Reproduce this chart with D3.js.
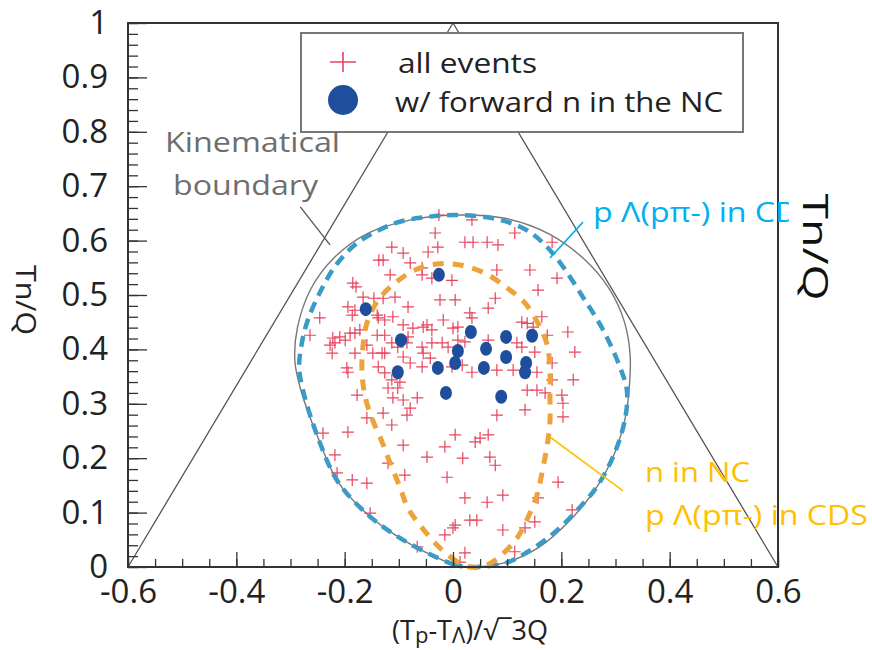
<!DOCTYPE html>
<html>
<head>
<meta charset="utf-8">
<script src="https://cdn.jsdelivr.net/npm/d3@7"></script>
<style>
  body { margin: 0; background: #fff; }
  svg { display: block; }
</style>
</head>
<body>
<svg id="chart" width="872" height="650"></svg>
<script>
// Axis ticks
const xTickValues = [-0.6, -0.4, -0.2, 0, 0.2, 0.4, 0.6];
const yTickValues = [0, 0.1, 0.2, 0.3, 0.4, 0.5, 0.6, 0.7, 0.8, 0.9, 1];
const xTickLabels = ["-0.6", "-0.4", "-0.2", "0", "0.2", "0.4", "0.6"];
const yTickLabels = ["0", "0.1", "0.2", "0.3", "0.4", "0.5", "0.6", "0.7", "0.8", "0.9", "1"];

// Dalitz triangle (simple kinematic limit)
const triangle = [[-0.6, 0], [0, 1], [0.6, 0]];

// Relativistic kinematical boundary
const boundary = [
  [0.031, 0], [0.004, 0.004], [-0.052, 0.028], [-0.107, 0.059], [-0.157, 0.096],
  [-0.212, 0.156], [-0.249, 0.237], [-0.282, 0.329], [-0.292, 0.380], [-0.287, 0.441],
  [-0.262, 0.512], [-0.220, 0.568], [-0.160, 0.612], [-0.078, 0.638], [0.004, 0.647],
  [0.096, 0.641], [0.178, 0.612], [0.242, 0.566], [0.288, 0.512], [0.316, 0.452],
  [0.327, 0.390], [0.325, 0.325], [0.318, 0.274], [0.299, 0.211], [0.268, 0.151],
  [0.220, 0.090], [0.157, 0.035], [0.096, 0.008]
];

// Acceptance: p Λ(pπ-) in CDS
const cdsAcceptance = [
  [0.031, 0], [0.004, 0.004], [-0.052, 0.028], [-0.107, 0.059], [-0.157, 0.096],
  [-0.212, 0.156], [-0.249, 0.237], [-0.277, 0.325], [-0.284, 0.368], [-0.279, 0.412],
  [-0.268, 0.454], [-0.246, 0.504], [-0.216, 0.555], [-0.175, 0.597], [-0.107, 0.632],
  [-0.052, 0.643], [0.004, 0.647], [0.078, 0.640], [0.133, 0.621], [0.166, 0.596],
  [0.198, 0.559], [0.240, 0.496], [0.277, 0.436], [0.308, 0.368], [0.321, 0.325],
  [0.318, 0.274], [0.299, 0.211], [0.268, 0.151], [0.238, 0.114], [0.188, 0.064],
  [0.138, 0.028], [0.096, 0.007]
];

// Acceptance: n in NC and p Λ(pπ-) in CDS
const ncAcceptance = [
  [0.031, 0], [0.009, 0.009], [-0.024, 0.035], [-0.057, 0.072], [-0.083, 0.108],
  [-0.098, 0.147], [-0.116, 0.191], [-0.131, 0.230], [-0.150, 0.274], [-0.162, 0.312],
  [-0.168, 0.358], [-0.166, 0.408], [-0.159, 0.448], [-0.138, 0.491], [-0.107, 0.522],
  [-0.070, 0.546], [-0.030, 0.557], [0.013, 0.555], [0.059, 0.540], [0.100, 0.513],
  [0.133, 0.485], [0.157, 0.448], [0.174, 0.408], [0.179, 0.358], [0.179, 0.311],
  [0.179, 0.267], [0.174, 0.224], [0.166, 0.182], [0.155, 0.132], [0.138, 0.090],
  [0.118, 0.053], [0.087, 0.020], [0.059, 0.002]
];

// All events
const allEvents = [
  [-0.026,0.647],[-0.033,0.614],[-0.028,0.588],[-0.046,0.579],[-0.113,0.588],[-0.137,0.564],
  [-0.129,0.564],[-0.092,0.577],[-0.079,0.559],[-0.057,0.550],[-0.057,0.537],[-0.039,0.531],
  [-0.002,0.527],[-0.116,0.537],[-0.185,0.522],[-0.179,0.515],[-0.166,0.496],[-0.146,0.494],
  [-0.129,0.494],[-0.107,0.496],[-0.194,0.478],[-0.181,0.472],[-0.186,0.463],[-0.140,0.463],
  [-0.138,0.458],[-0.126,0.454],[-0.111,0.460],[-0.083,0.478],[-0.092,0.445],[-0.055,0.441],
  [-0.048,0.445],[-0.074,0.439],[-0.039,0.436],[-0.024,0.491],[0.004,0.491],[-0.018,0.454],
  [0.000,0.439],[-0.222,0.421],[-0.209,0.423],[-0.199,0.417],[-0.190,0.430],[-0.181,0.430],
  [-0.172,0.436],[-0.227,0.408],[-0.218,0.412],[-0.223,0.393],[-0.246,0.458],[-0.264,0.426],
  [-0.181,0.393],[-0.148,0.393],[-0.131,0.393],[-0.126,0.393],[-0.159,0.408],[-0.140,0.426],
  [-0.126,0.426],[-0.102,0.404],[-0.113,0.412],[-0.085,0.412],[-0.083,0.423],[-0.057,0.404],
  [-0.055,0.393],[-0.039,0.412],[-0.020,0.412],[-0.009,0.404],[0.009,0.417],[-0.092,0.386],
  [-0.079,0.375],[-0.057,0.368],[-0.042,0.384],[-0.138,0.368],[-0.126,0.357],[-0.196,0.366],
  [-0.194,0.358],[-0.002,0.368],[-0.113,0.344],[-0.098,0.340],
  [0.035,0.638],[0.022,0.597],[0.037,0.597],[0.063,0.597],[0.083,0.592],[0.114,0.614],
  [0.183,0.597],[0.142,0.546],[0.192,0.531],[0.081,0.546],[0.157,0.509],[0.078,0.494],
  [0.065,0.476],[0.031,0.467],[0.035,0.458],[0.009,0.441],[0.164,0.460],[0.127,0.450],
  [0.137,0.448],[0.148,0.441],[0.212,0.432],[0.174,0.426],[0.118,0.412],[0.127,0.404],
  [0.065,0.417],[0.022,0.414],[0.225,0.395],[0.151,0.395],[0.183,0.375],[0.035,0.358],
  [0.081,0.362],[0.111,0.362],[0.155,0.358],[0.183,0.344],[0.222,0.344],[0.017,0.371],
  [-0.177,0.316],[-0.120,0.329],[-0.102,0.329],[-0.111,0.311],[-0.092,0.307],[-0.066,0.311],
  [-0.079,0.292],[-0.085,0.279],[-0.129,0.283],[-0.159,0.274],[-0.113,0.261],[-0.240,0.246],
  [-0.194,0.248],[-0.092,0.224],[0.004,0.243],[-0.015,0.221],[-0.048,0.202],[-0.218,0.206],
  [-0.120,0.191],[-0.089,0.169],[-0.214,0.173],[-0.186,0.160],[-0.159,0.154],[-0.011,0.165],
  [-0.153,0.099],[-0.015,0.059],[0.000,0.072],[-0.066,0.037],[0.013,0.009],
  [0.137,0.325],[0.155,0.325],[0.170,0.320],[0.201,0.316],[0.203,0.301],[0.203,0.276],
  [0.133,0.289],[0.081,0.279],[0.065,0.243],[0.041,0.230],[0.068,0.202],[0.078,0.187],
  [0.018,0.200],[0.194,0.156],[0.092,0.132],[0.063,0.119],[0.022,0.127],[0.157,0.127],
  [0.031,0.086],[0.044,0.086],[0.133,0.072],[0.151,0.083],[0.092,0.068],[0.114,0.028],
  [0.220,0.105],[0.022,0.026],[0.004,0.077],[0.050,0.237]
];

// Events with a forward neutron in the NC
const forwardN = [
  [-0.161,0.474],[-0.026,0.537],[-0.096,0.417],[0.033,0.432],[0.009,0.397],[0.004,0.375],
  [-0.028,0.366],[-0.102,0.358],[0.061,0.401],[0.098,0.423],[0.098,0.386],[0.146,0.425],
  [0.057,0.366],[0.135,0.375],[0.133,0.358],[-0.013,0.320],[0.089,0.313]
];

// Annotation leader lines (data coordinates)
const boundaryLeader = [[-0.282, 0.662], [-0.227, 0.592]];
const cdsLeader = [[0.240, 0.634], [0.179, 0.568]];
const ncLeader = [[0.179, 0.239], [0.314, 0.140]];

const svg = d3.select("#chart");
const W = 872, H = 650;
const m = { left: 128, right: 778, top: 23, bottom: 567 };

const x = d3.scaleLinear().domain([-0.6, 0.6]).range([m.left, m.right]);
const y = d3.scaleLinear().domain([0, 1]).range([m.bottom, m.top]);

const FONT = "'Open Sans', 'DejaVu Sans', sans-serif";

svg.append("rect").attr("width", W).attr("height", H).attr("fill", "#fff");

const line = d3.line().x(d => x(d[0])).y(d => y(d[1]));
const closed = d3.line().x(d => x(d[0])).y(d => y(d[1])).curve(d3.curveCatmullRomClosed.alpha(0.5));

// Triangle
svg.append("path")
  .attr("d", line(triangle))
  .attr("fill", "none").attr("stroke", "#555").attr("stroke-width", 1.3);

// Boundary curve
svg.append("path")
  .attr("d", closed(boundary))
  .attr("fill", "none").attr("stroke", "#777").attr("stroke-width", 1.4);

// Red crosses
svg.append("g").selectAll("path").data(allEvents).join("path")
  .attr("transform", d => `translate(${x(d[0])},${y(d[1])})`)
  .attr("d", "M-6,0H6M0,-6V6")
  .attr("stroke", "#e8445c").attr("stroke-width", 1.2).attr("fill", "none");

// Acceptance contours
svg.append("path")
  .attr("d", closed(cdsAcceptance))
  .attr("fill", "none").attr("stroke", "#3a9bc6").attr("stroke-width", 4.5)
  .attr("stroke-dasharray", "11 7");

svg.append("path")
  .attr("d", closed(ncAcceptance))
  .attr("fill", "none").attr("stroke", "#eea23a").attr("stroke-width", 5)
  .attr("stroke-dasharray", "11 9");

// Blue dots
svg.append("g").selectAll("ellipse").data(forwardN).join("ellipse")
  .attr("cx", d => x(d[0])).attr("cy", d => y(d[1]))
  .attr("rx", 6).attr("ry", 7)
  .attr("fill", "#1f4e9c");

// Axes
const axisL = d3.axisLeft(y).tickValues(yTickValues)
  .tickFormat((d, i) => yTickLabels[i]).tickSize(-19).tickPadding(20);
const axisLMinor = d3.axisLeft(y).tickValues(d3.range(0, 1.0001, 0.02))
  .tickFormat("").tickSize(-10);
const axisB = d3.axisBottom(x).tickValues(xTickValues)
  .tickFormat((d, i) => xTickLabels[i]).tickSize(-15).tickPadding(13);
const axisBMinor = d3.axisBottom(x).tickValues(d3.range(-0.6, 0.6001, 0.05))
  .tickFormat("").tickSize(-8);

function styleAxis(g) {
  g.select(".domain").remove();
  g.selectAll(".tick line").attr("stroke", "#333").attr("stroke-width", 1.3);
  g.selectAll(".tick text").attr("fill", "#222")
    .style("font-family", FONT).style("font-size", "33px");
}

svg.append("g").attr("transform", `translate(${m.left},0)`).call(axisLMinor).call(styleAxis);
svg.append("g").attr("transform", `translate(${m.left},0)`).call(axisL).call(styleAxis);
svg.append("g").attr("transform", `translate(0,${m.bottom})`).call(axisBMinor).call(styleAxis);
svg.append("g").attr("transform", `translate(0,${m.bottom})`).call(axisB).call(styleAxis);

// Frame
svg.append("rect")
  .attr("x", m.left).attr("y", m.top)
  .attr("width", m.right - m.left).attr("height", m.bottom - m.top)
  .attr("fill", "none").attr("stroke", "#333").attr("stroke-width", 2);

// Legend
const lg = svg.append("g");
lg.append("rect").attr("x", 301).attr("y", 33).attr("width", 442).attr("height", 99)
  .attr("fill", "#fff").attr("stroke", "#777").attr("stroke-width", 2);
lg.append("path").attr("transform", "translate(343,62)")
  .attr("d", "M-13,0H13M0,-10V10")
  .attr("stroke", "#e8445c").attr("stroke-width", 1.6);
lg.append("circle").attr("cx", 343).attr("cy", 100).attr("r", 15).attr("fill", "#1f4e9c");
lg.append("text").attr("x", 398).attr("y", 73).text("all events")
  .attr("fill", "#222").style("font-family", FONT).style("font-size", "28px")
  .attr("textLength", 139).attr("lengthAdjust", "spacingAndGlyphs");
lg.append("text").attr("x", 395).attr("y", 112).text("w/ forward n in the NC")
  .attr("fill", "#222").style("font-family", FONT).style("font-size", "28px")
  .attr("textLength", 328).attr("lengthAdjust", "spacingAndGlyphs");

// Kinematical boundary annotation
svg.append("path").attr("d", line(boundaryLeader))
  .attr("stroke", "#555").attr("stroke-width", 1.3).attr("fill", "none");
svg.append("text").attr("x", 165).attr("y", 152).text("Kinematical")
  .attr("fill", "#6e6e6e").style("font-family", FONT).style("font-size", "27px")
  .attr("textLength", 175).attr("lengthAdjust", "spacingAndGlyphs");
svg.append("text").attr("x", 173).attr("y", 195).text("boundary")
  .attr("fill", "#6e6e6e").style("font-family", FONT).style("font-size", "27px")
  .attr("textLength", 145).attr("lengthAdjust", "spacingAndGlyphs");

// CDS acceptance annotation (clipped at the right)
svg.append("clipPath").attr("id", "rightClip")
  .append("rect").attr("x", 0).attr("y", 0).attr("width", 789).attr("height", H);
svg.append("path").attr("d", line(cdsLeader))
  .attr("stroke", "#00b0f0").attr("stroke-width", 1.6).attr("fill", "none");
svg.append("text").attr("x", 593).attr("y", 222).text("p Λ(pπ-) in CDS")
  .attr("clip-path", "url(#rightClip)")
  .attr("fill", "#00b0f0").style("font-family", FONT).style("font-size", "27px")
  .attr("textLength", 223).attr("lengthAdjust", "spacingAndGlyphs");

// NC acceptance annotation
svg.append("path").attr("d", line(ncLeader))
  .attr("stroke", "#ffc000").attr("stroke-width", 1.6).attr("fill", "none");
svg.append("text").attr("x", 645).attr("y", 482).text("n in NC")
  .attr("fill", "#ffc000").style("font-family", FONT).style("font-size", "27px")
  .attr("textLength", 105).attr("lengthAdjust", "spacingAndGlyphs");
svg.append("text").attr("x", 645).attr("y", 525).text("p Λ(pπ-) in CDS")
  .attr("fill", "#ffc000").style("font-family", FONT).style("font-size", "27px")
  .attr("textLength", 223).attr("lengthAdjust", "spacingAndGlyphs");

// Axis titles
const xt = svg.append("text").attr("x", 470).attr("y", 640).attr("text-anchor", "middle")
  .attr("fill", "#222").style("font-family", FONT).style("font-size", "27px");
xt.append("tspan").text("(T");
xt.append("tspan").text("p").style("font-size", "22px").attr("dy", 3);
xt.append("tspan").text("-T").attr("dy", -3);
xt.append("tspan").text("Λ").style("font-size", "22px").attr("dy", 3);
xt.append("tspan").text(")/√¯3Q").attr("dy", -3);

svg.append("text")
  .attr("transform", "translate(16,300) rotate(90)")
  .attr("text-anchor", "middle")
  .attr("fill", "#222").style("font-family", FONT).style("font-size", "28px")
  .attr("textLength", 70).attr("lengthAdjust", "spacingAndGlyphs")
  .text("Tn/Q");

svg.append("text")
  .attr("transform", "translate(803,247) rotate(90)")
  .attr("text-anchor", "middle")
  .attr("fill", "#111").style("font-family", FONT).style("font-size", "34px")
  .attr("textLength", 107).attr("lengthAdjust", "spacingAndGlyphs")
  .text("Tn/Q");
</script>
</body>
</html>
